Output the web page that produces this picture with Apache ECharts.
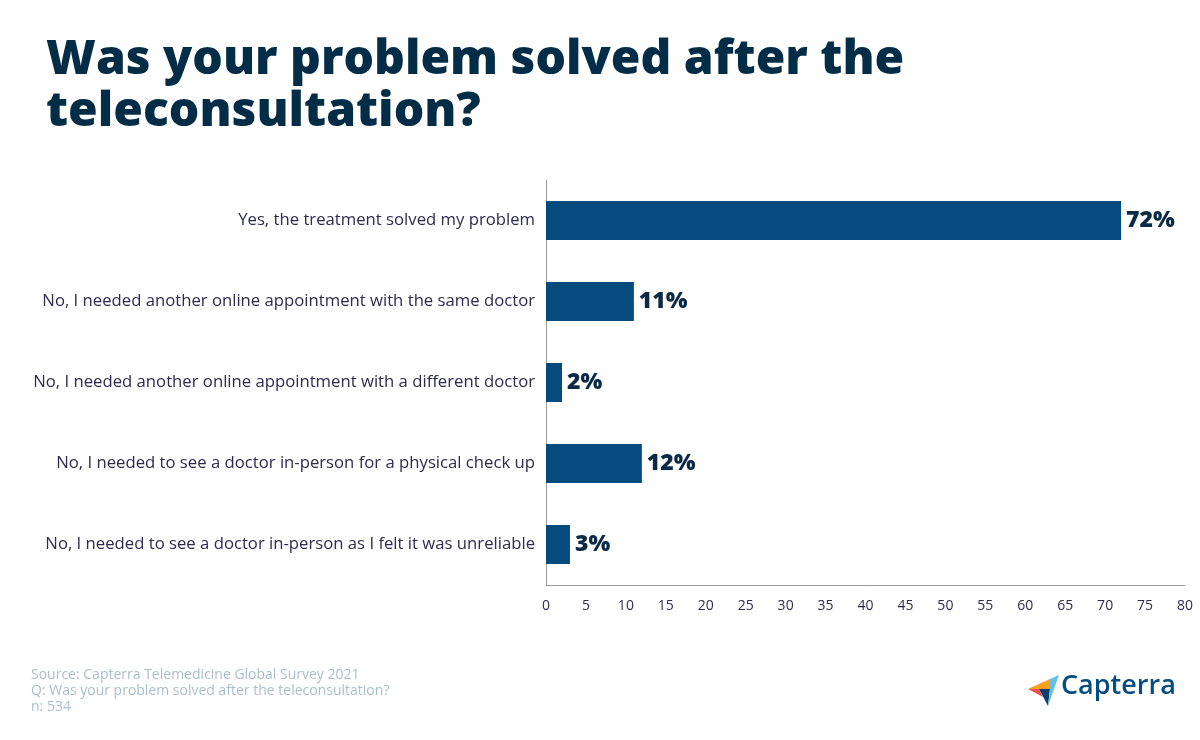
<!DOCTYPE html>
<html>
<head>
<meta charset="utf-8">
<script src="https://cdn.jsdelivr.net/npm/echarts@6/dist/echarts.min.js"></script>
<style>
html,body{margin:0;padding:0;background:#fff;}
#chart{width:1200px;height:740px;}
</style>
</head>
<body>
<div id="chart"></div>
<script>
const categories = [
  "Yes, the treatment solved my problem",
  "No, I needed another online appointment with the same doctor",
  "No, I needed another online appointment with a different doctor",
  "No, I needed to see a doctor in-person for a physical check up",
  "No, I needed to see a doctor in-person as I felt it was unreliable"
];
const values = [72, 11, 2, 12, 3];
const titleText = "Was your problem solved after the\nteleconsultation?";
const sourceLines = [
  "Source: Capterra Telemedicine Global Survey 2021",
  "Q: Was your problem solved after the teleconsultation?",
  "n: 534"
];

const chart = echarts.init(document.getElementById('chart'), null, {renderer: 'canvas'});
const option = {
  backgroundColor: '#ffffff',
  animation: false,
  title: {
    text: titleText,
    left: 41, top: 29,
    textStyle: {
      fontFamily: 'Open Sans', fontWeight: 800, fontSize: 48,
      lineHeight: 52, color: '#032d47'
    }
  },
  grid: {left: 546, right: 15, top: 180, bottom: 155, containLabel: false},
  xAxis: {
    type: 'value', min: 0, max: 80, interval: 5,
    axisLine: {show: true, lineStyle: {color: '#9a9a9a', width: 1}},
    axisTick: {show: false},
    splitLine: {show: false},
    axisLabel: {color: '#2e2b4f', fontFamily: 'Open Sans', fontSize: 14, margin: 14}
  },
  yAxis: {
    type: 'category', data: categories, inverse: true,
    axisLine: {show: true, lineStyle: {color: '#9a9a9a', width: 1}},
    axisTick: {show: false},
    axisLabel: {color: '#2e2b4f', fontFamily: 'Open Sans', fontSize: 16.7, margin: 11}
  },
  series: [{
    type: 'bar', data: values, barWidth: 39,
    itemStyle: {color: '#054b7d'},
    label: {
      show: true, position: 'right', distance: 5,
      formatter: '{c}%',
      color: '#0b2a45', fontFamily: 'Open Sans', fontWeight: 800, fontSize: 23
    }
  }],
  graphic: [
    {
      type: 'text', left: 31, top: 667,
      style: {
        text: sourceLines.join('\n'), fill: '#a9bfcc',
        font: '400 14px "Open Sans"', lineHeight: 16
      }
    },
    {type: 'polygon', shape: {points: [[1028,689],[1050,679],[1050,689]]}, style: {fill: '#f7a11f'}},
    {type: 'polygon', shape: {points: [[1028,689],[1039,689],[1043,697]]}, style: {fill: '#ef4f4f'}},
    {type: 'polygon', shape: {points: [[1039,689],[1050,689],[1048,706]]}, style: {fill: '#0b3f6f'}},
    {type: 'polygon', shape: {points: [[1050,679],[1059,675],[1048,706],[1050,689]]}, style: {fill: '#64bfea'}},
    {
      type: 'text', left: 1061, top: 673,
      style: {text: 'Capterra', fill: '#044d80', font: '600 27px "Open Sans"'}
    }
  ]
};
chart.setOption(option);
</script>
</body>
</html>
